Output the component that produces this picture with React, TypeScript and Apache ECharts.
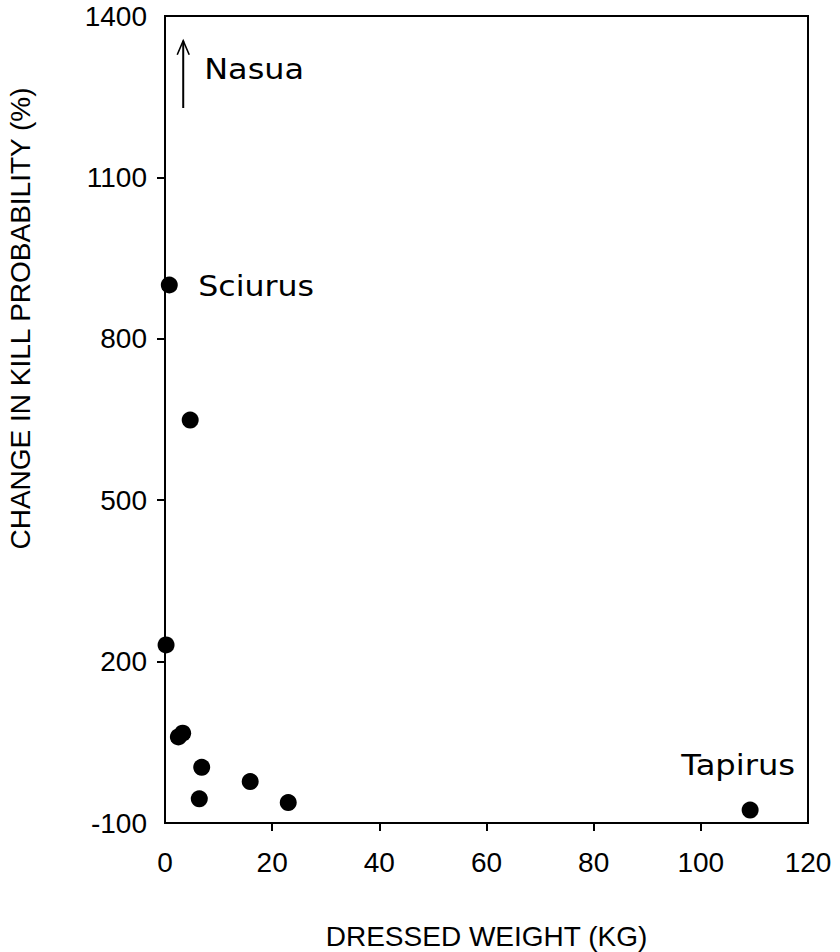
import React, { useEffect, useRef } from "react";
import * as echarts from "echarts";

// Dressed weight (kg) of each hunted taxon and its change in kill probability (%)
const weightKg = [0.8, 4.7, 0.2, 2.5, 3.3, 6.85, 6.4, 15.9, 23, 109.2];
const killChange = [900, 649, 231, 60, 67, 3.5, -55, -23, -62, -76];

const yLabels = [-100, 200, 500, 800, 1100, 1400];
const yTicks = [200, 500, 800, 1100];
const xTicks = [20, 40, 60, 80, 100];

// Named taxa: [x, y, label]
const sciurus: [number, number, string] = [0.8, 900, "Sciurus"];
const tapirus: [number, number, string] = [109.2, -76, "Tapirus"];
// Nasua lies off the scale; an arrow points upward from it
const nasuaArrow = { x: 3.4, yFrom: 1229, yTo: 1354 };
const nasuaLabel = "Nasua";

const FONT = '"Liberation Sans", Arial, Helvetica, sans-serif';
const NOTE_FONT = '"DejaVu Sans", Verdana, sans-serif';

export default function App() {
  const ref = useRef<HTMLDivElement>(null);

  useEffect(() => {
    if (!ref.current) return;
    const chart = echarts.init(ref.current, null, { renderer: "svg" });

    const points = weightKg.map((w, i) => [w, killChange[i]]);

    chart.setOption({
      animation: false,
      backgroundColor: "#fff",
      grid: {
        left: 165,
        right: 32,
        top: 16,
        bottom: 129,
        containLabel: false,
        outerBoundsMode: "none",
        show: true,
        borderColor: "#000",
        borderWidth: 2,
        backgroundColor: "transparent",
      },
      xAxis: {
        type: "value",
        min: 0,
        max: 120,
        interval: 20,
        name: "DRESSED WEIGHT (KG)",
        nameLocation: "middle",
        nameGap: 99,
        nameTextStyle: { fontFamily: FONT, fontSize: 28, color: "#000" },
        axisLine: { show: true, onZero: false, lineStyle: { color: "#000", width: 2 } },
        axisTick: {
          show: true,
          inside: false,
          length: 8,
          customValues: xTicks,
          lineStyle: { color: "#000", width: 2 },
        },
        axisLabel: { margin: 25, fontFamily: FONT, fontSize: 28, color: "#000" },
        splitLine: { show: false },
      },
      yAxis: {
        type: "value",
        min: -100,
        max: 1400,
        name: "CHANGE IN KILL PROBABILITY (%)",
        nameLocation: "middle",
        nameGap: 131,
        nameTextStyle: {
          fontFamily: FONT,
          fontSize: 28,
          color: "#000",
          padding: [0, 0, 0, 202],
        },
        axisLine: { show: true, onZero: false, lineStyle: { color: "#000", width: 2 } },
        axisTick: {
          show: true,
          inside: false,
          length: 8,
          customValues: yTicks,
          lineStyle: { color: "#000", width: 2 },
        },
        axisLabel: {
          margin: 18,
          fontFamily: FONT,
          fontSize: 28,
          color: "#000",
          customValues: yLabels,
          formatter: (v: number) => String(v),
        },
        splitLine: { show: false },
      },
      series: [
        {
          type: "scatter",
          data: points,
          symbol: "circle",
          symbolSize: 17,
          itemStyle: { color: "#000", opacity: 1 },
          z: 3,
        },
        {
          type: "custom",
          data: [0],
          silent: true,
          clip: false,
          z: 4,
          renderItem: (_params: any, api: any) => {
            const s = api.coord([sciurus[0], sciurus[1]]);
            const t = api.coord([tapirus[0], tapirus[1]]);
            const a0 = api.coord([nasuaArrow.x, nasuaArrow.yFrom]);
            const a1 = api.coord([nasuaArrow.x, nasuaArrow.yTo]);
            const textStyle = { fontFamily: NOTE_FONT, fontSize: 28, fill: "#000" };
            return {
              type: "group",
              children: [
                {
                  type: "text",
                  x: s[0] + 29,
                  y: s[1] + 1,
                  scaleX: 1.13,
                  style: { ...textStyle, text: sciurus[2], align: "left", verticalAlign: "middle" },
                },
                {
                  type: "text",
                  x: t[0] + 45,
                  y: t[1] - 45,
                  scaleX: 1.15,
                  style: { ...textStyle, text: tapirus[2], align: "right", verticalAlign: "middle" },
                },
                {
                  type: "text",
                  x: a1[0] + 21,
                  y: a1[1] + 28,
                  scaleX: 1.14,
                  style: { ...textStyle, text: nasuaLabel, align: "left", verticalAlign: "middle" },
                },
                {
                  type: "line",
                  shape: { x1: a0[0], y1: a0[1], x2: a1[0], y2: a1[1] },
                  style: { stroke: "#000", lineWidth: 2 },
                },
                {
                  type: "polyline",
                  shape: {
                    points: [
                      [a1[0] - 6, a1[1] + 14],
                      [a1[0], a1[1]],
                      [a1[0] + 6, a1[1] + 14],
                    ],
                  },
                  style: { stroke: "#000", lineWidth: 1.6, fill: null },
                },
              ],
            };
          },
        },
      ],
    });

    return () => chart.dispose();
  }, []);

  return (
    <div
      ref={ref}
      style={{ position: "absolute", left: 0, top: 0, width: 840, height: 952 }}
    />
  );
}
